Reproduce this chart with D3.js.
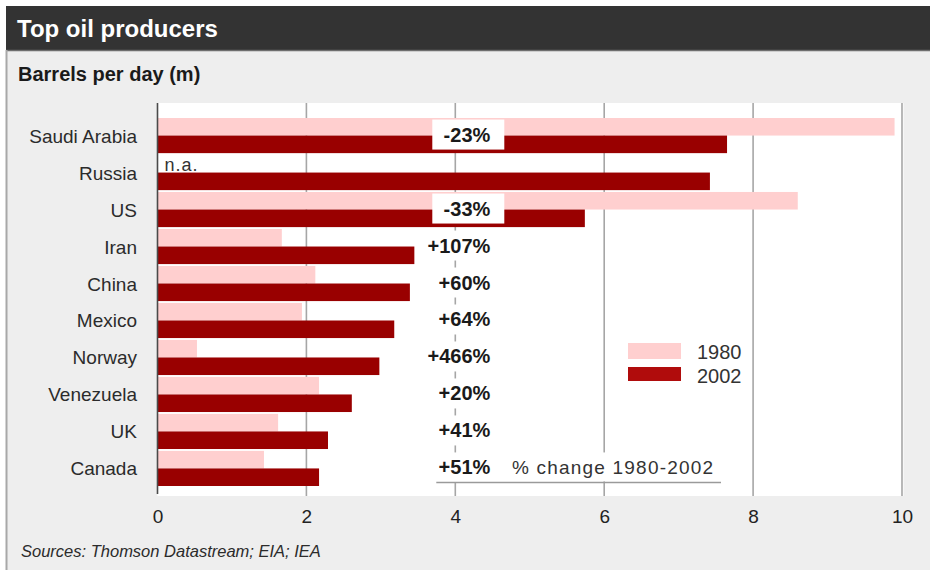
<!DOCTYPE html>
<html>
<head>
<meta charset="utf-8">
<script src="https://cdn.jsdelivr.net/npm/d3@7/dist/d3.min.js"></script>
<style>
  html, body { margin: 0; padding: 0; background: #ffffff; }
  svg { display: block; font-family: "Liberation Sans", Arial, sans-serif; }
</style>
</head>
<body>
<svg id="chart" width="930" height="570"></svg>
<script>
// Oil output, million barrels per day
const countries = ["Saudi Arabia", "Russia", "US", "Iran", "China", "Mexico", "Norway", "Venezuela", "UK", "Canada"];
const values1980 = [9.9, null, 8.6, 1.67, 2.12, 1.94, 0.53, 2.17, 1.62, 1.43];
const values2002 = [7.65, 7.42, 5.74, 3.45, 3.39, 3.18, 2.98, 2.61, 2.29, 2.17];
const changeLabels = ["-23%", "", "-33%", "+107%", "+60%", "+64%", "+466%", "+20%", "+41%", "+51%"];
const xTicks = [0, 2, 4, 6, 8, 10];
const seriesNames = ["1980", "2002"];

const colors = { y1980: "#ffcfcf", y2002: "#990000", legend2002: "#b00c0c" };

const svg = d3.select("#chart");
const W = 930, H = 570;

// frame: header strip and grey panel
svg.append("rect").attr("x", 6).attr("y", 6).attr("width", W - 6).attr("height", 44).attr("fill", "#333333");
svg.append("rect").attr("x", 6).attr("y", 50).attr("width", W - 6).attr("height", H - 50).attr("fill", "#eeeeee");
svg.append("line").attr("x1", 6).attr("x2", W).attr("y1", 50.5).attr("y2", 50.5).attr("stroke", "#6e6e6e").attr("stroke-width", 1.5);
svg.append("line").attr("x1", 6.5).attr("x2", 6.5).attr("y1", 50).attr("y2", H).attr("stroke", "#a8a8a8").attr("stroke-width", 2);

svg.append("text").attr("x", 17).attr("y", 37).attr("fill", "#ffffff")
  .attr("font-size", 24).attr("font-weight", "bold").text("Top oil producers");
svg.append("text").attr("x", 18).attr("y", 81).attr("fill", "#1a1a1a")
  .attr("font-size", 20).attr("font-weight", "bold").text("Barrels per day (m)");

// scales
const x = d3.scaleLinear().domain([0, 10]).range([157.5, 902]);
const y = d3.scaleBand().domain(countries).range([118, 486]).paddingInner(0.05).paddingOuter(0);
const half = y.bandwidth() / 2;
const plotTop = 103, plotBottom = 496;

// plot background
svg.append("rect").attr("x", x(0)).attr("y", plotTop)
  .attr("width", x(10) - x(0) + 1.5).attr("height", plotBottom - plotTop).attr("fill", "#ffffff");

// vertical gridlines
svg.append("g").selectAll("line").data(xTicks.filter(d => d > 0)).join("line")
  .attr("x1", d => x(d)).attr("x2", d => x(d))
  .attr("y1", plotTop).attr("y2", plotBottom)
  .attr("stroke", "#a6a6a6").attr("stroke-width", 1.6);

const rows = countries.map((c, i) => ({ c, v1980: values1980[i], v2002: values2002[i], change: changeLabels[i] }));

// bars
svg.append("g").selectAll("rect").data(rows.filter(d => d.v1980 != null)).join("rect")
  .attr("x", x(0)).attr("y", d => y(d.c))
  .attr("width", d => x(d.v1980) - x(0)).attr("height", half)
  .attr("fill", colors.y1980);
svg.append("g").selectAll("rect").data(rows).join("rect")
  .attr("x", x(0)).attr("y", d => y(d.c) + half)
  .attr("width", d => x(d.v2002) - x(0)).attr("height", half)
  .attr("fill", colors.y2002);

// "n.a." where no 1980 figure exists
svg.append("g").selectAll("text").data(rows.filter(d => d.v1980 == null)).join("text")
  .attr("x", x(0) + 7).attr("y", d => y(d.c) + half - 2)
  .attr("font-size", 18).attr("letter-spacing", 1).attr("fill", "#333333").text("n.a.");

// y axis line
svg.append("line").attr("x1", x(0)).attr("x2", x(0)).attr("y1", plotTop).attr("y2", plotBottom - 2)
  .attr("stroke", "#4a4a4a").attr("stroke-width", 1.6);

// country labels
svg.append("g").selectAll("text").data(countries).join("text")
  .attr("x", 137).attr("y", d => y(d) + half + 7)
  .attr("text-anchor", "end").attr("font-size", 19).attr("fill", "#2b2b2b").text(d => d);

// percentage change labels on white tabs
const tabs = svg.append("g").selectAll("g").data(rows.filter(d => d.change)).join("g");
tabs.append("rect")
  .attr("x", x(4) - 23).attr("y", d => y(d.c) + half - 16)
  .attr("width", 72).attr("height", 30).attr("fill", "#ffffff");
tabs.append("text")
  .attr("x", x(4) + 35).attr("y", d => y(d.c) + half + 6)
  .attr("text-anchor", "end").attr("font-size", 20).attr("font-weight", "bold")
  .attr("fill", "#1a1a1a").text(d => d.change);

// caption for the percentage column
const lastRow = countries[countries.length - 1];
svg.append("rect").attr("x", x(4) + 49).attr("y", y(lastRow) + half - 16)
  .attr("width", 218).attr("height", 29).attr("fill", "#ffffff");
svg.append("text").attr("x", 512).attr("y", y(lastRow) + half + 6)
  .attr("font-size", 19).attr("letter-spacing", 1.2).attr("fill", "#333333").text("% change 1980-2002");
svg.append("line").attr("x1", x(4) - 19).attr("x2", 721).attr("y1", 482.5).attr("y2", 482.5)
  .attr("stroke", "#9a9a9a").attr("stroke-width", 1.5);

// legend
const legend = svg.append("g").attr("transform", "translate(628,343)");
legend.selectAll("rect").data(seriesNames).join("rect")
  .attr("x", 0).attr("y", (d, i) => i * 24)
  .attr("width", 53).attr("height", (d, i) => i === 0 ? 16 : 14)
  .attr("fill", (d, i) => i === 0 ? colors.y1980 : colors.legend2002);
legend.selectAll("text").data(seriesNames).join("text")
  .attr("x", 69).attr("y", (d, i) => 16 + i * 24)
  .attr("font-size", 20).attr("fill", "#333333").text(d => d);

// x axis tick labels
const xAxis = d3.axisBottom(x).tickValues(xTicks).tickSize(0).tickPadding(0).tickFormat(d3.format("d"));
const gx = svg.append("g").attr("transform", "translate(0,523)").call(xAxis);
gx.select(".domain").remove();
gx.selectAll("text").attr("dy", 0).attr("font-size", 19).attr("fill", "#222222")
  .attr("font-family", "\"Liberation Sans\", Arial, sans-serif");

// source note
svg.append("text").attr("x", 21).attr("y", 557).attr("font-size", 16.5).attr("font-style", "italic")
  .attr("fill", "#2b2b2b").text("Sources: Thomson Datastream; EIA; IEA");
</script>
</body>
</html>
